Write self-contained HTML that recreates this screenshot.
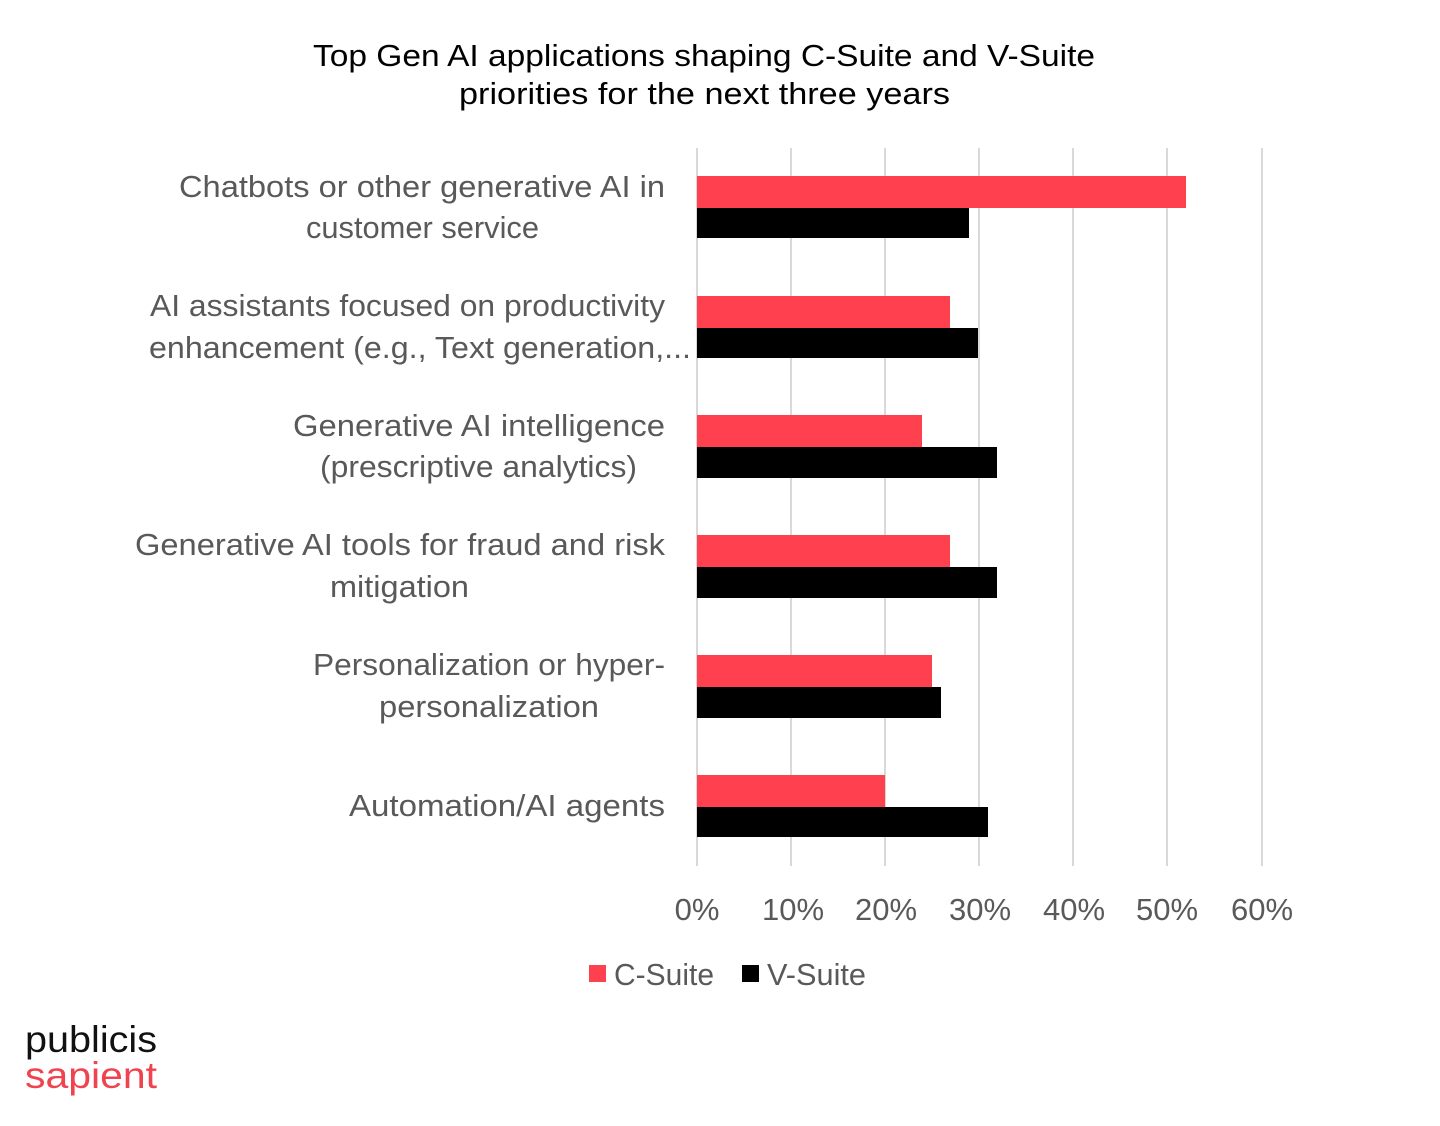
<!DOCTYPE html>
<html><head><meta charset="utf-8"><style>
html,body{margin:0;padding:0;background:#fff;}
svg{display:block;}
</style></head><body>
<svg width="1440" height="1126" xmlns="http://www.w3.org/2000/svg" font-family="'Liberation Sans', sans-serif">
<rect width="1440" height="1126" fill="#fff"/>
<text x="313" y="66" font-size="31" textLength="782" lengthAdjust="spacingAndGlyphs" fill="#000">Top Gen AI applications shaping C-Suite and V-Suite</text>
<text x="459" y="104" font-size="31" textLength="491" lengthAdjust="spacingAndGlyphs" fill="#000">priorities for the next three years</text>
<g stroke="#d9d9d9" stroke-width="2">
<line x1="791" y1="148" x2="791" y2="866"/>
<line x1="885" y1="148" x2="885" y2="866"/>
<line x1="979" y1="148" x2="979" y2="866"/>
<line x1="1073" y1="148" x2="1073" y2="866"/>
<line x1="1167" y1="148" x2="1167" y2="866"/>
<line x1="1262" y1="148" x2="1262" y2="866"/>
<line x1="697" y1="148" x2="697" y2="866"/>
</g>
<g fill="#ff404e">
<rect x="697" y="176" width="489" height="32"/>
<rect x="697" y="296" width="253" height="32"/>
<rect x="697" y="415" width="225" height="32"/>
<rect x="697" y="535" width="253" height="32"/>
<rect x="697" y="655" width="235" height="32"/>
<rect x="697" y="775" width="188" height="32"/>
</g>
<g fill="#000">
<rect x="697" y="208" width="272" height="30"/>
<rect x="697" y="328" width="281" height="30"/>
<rect x="697" y="447" width="300" height="31"/>
<rect x="697" y="567" width="300" height="31"/>
<rect x="697" y="687" width="244" height="31"/>
<rect x="697" y="807" width="291" height="30"/>
</g>
<g font-size="31" fill="#595959" lengthAdjust="spacingAndGlyphs">
<text x="179" y="197" textLength="486" lengthAdjust="spacingAndGlyphs">Chatbots or other generative AI in</text>
<text x="306" y="238" textLength="233" lengthAdjust="spacingAndGlyphs">customer service</text>
<text x="150" y="316" textLength="515" lengthAdjust="spacingAndGlyphs">AI assistants focused on productivity</text>
<text x="149" y="358" textLength="542" lengthAdjust="spacingAndGlyphs">enhancement (e.g., Text generation,...</text>
<text x="293" y="436" textLength="372" lengthAdjust="spacingAndGlyphs">Generative AI intelligence</text>
<text x="320" y="477" textLength="317" lengthAdjust="spacingAndGlyphs">(prescriptive analytics)</text>
<text x="135" y="555" textLength="530" lengthAdjust="spacingAndGlyphs">Generative AI tools for fraud and risk</text>
<text x="330" y="597" textLength="139" lengthAdjust="spacingAndGlyphs">mitigation</text>
<text x="313" y="675" textLength="352" lengthAdjust="spacingAndGlyphs">Personalization or hyper-</text>
<text x="379" y="717" textLength="220" lengthAdjust="spacingAndGlyphs">personalization</text>
<text x="349" y="816" textLength="316" lengthAdjust="spacingAndGlyphs">Automation/AI agents</text>
</g>
<g font-size="31" fill="#595959" text-anchor="middle">
<text x="697" y="920">0%</text>
<text x="793" y="920">10%</text>
<text x="886" y="920">20%</text>
<text x="980" y="920">30%</text>
<text x="1074" y="920">40%</text>
<text x="1167" y="920">50%</text>
<text x="1262" y="920">60%</text>
</g>
<rect x="589" y="965" width="17" height="17" fill="#ff404e"/>
<text x="614" y="985" font-size="31" fill="#595959" textLength="100" lengthAdjust="spacingAndGlyphs">C-Suite</text>
<rect x="742" y="965" width="17" height="17" fill="#000"/>
<text x="767" y="985" font-size="31" fill="#595959" textLength="99" lengthAdjust="spacingAndGlyphs">V-Suite</text>
<text x="25" y="1052" font-size="37" fill="#111" textLength="132" lengthAdjust="spacingAndGlyphs">publicis</text>
<text x="25" y="1088" font-size="37" fill="#f0434f" textLength="132" lengthAdjust="spacingAndGlyphs">sapient</text>
</svg>
</body></html>
